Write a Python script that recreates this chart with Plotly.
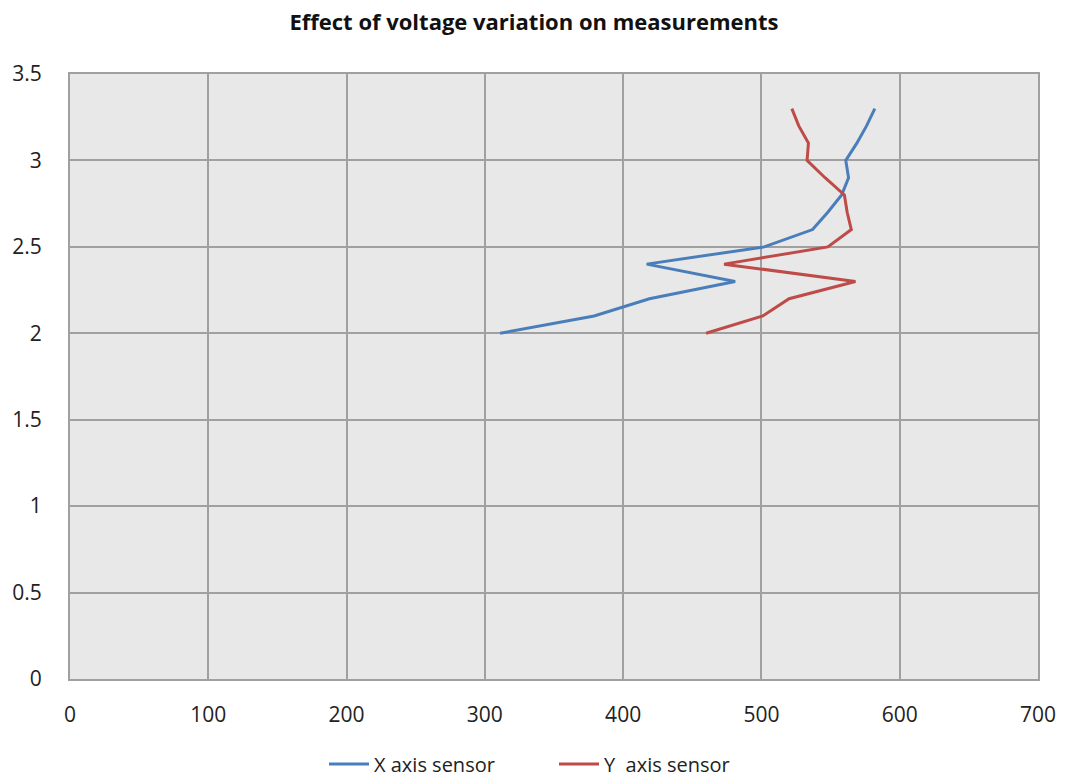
import plotly.graph_objects as go

voltage = [2.0, 2.1, 2.2, 2.3, 2.4, 2.5, 2.6, 2.7, 2.8, 2.9, 3.0, 3.1, 3.2, 3.3]
x_sensor = [311, 379, 419, 481, 417, 502, 537, 548, 558, 563, 561, 569, 576, 582]
y_sensor = [460, 501, 520, 568, 473, 548, 565, 562, 560, 546, 533, 534, 527, 522]

fig = go.Figure()
fig.add_trace(go.Scatter(x=x_sensor, y=voltage, mode="lines", name="X axis sensor",
                         line=dict(color="#4a7ebb", width=3)))
fig.add_trace(go.Scatter(x=y_sensor, y=voltage, mode="lines", name="Y  axis sensor",
                         line=dict(color="#be4b48", width=3)))

fig.update_layout(
    width=1068, height=782,
    margin=dict(l=68, r=28, t=74, b=103),
    paper_bgcolor="white", plot_bgcolor="#e8e8e8",
    font=dict(family="Open Sans, Lato, sans-serif", size=20, color="#222"),
    title=dict(text="<b>Effect of voltage variation on measurements</b>", x=0.5, xanchor="center",
               y=1 - 22/782, yanchor="middle", font=dict(size=22, color="#111")),
    showlegend=True,
    legend=dict(orientation="h", x=0.5, xanchor="center", yref="container",
                y=1 - 764/782, yanchor="middle", font=dict(size=20),
                entrywidth=175, itemwidth=40),
)
fig.update_xaxes(range=[0, 700], dtick=100, showgrid=True, gridcolor="#a0a0a0", gridwidth=2,
                 showline=True, linecolor="#a0a0a0", linewidth=2, mirror=True, zeroline=False,
                 ticks="", ticklabelstandoff=16, tickfont=dict(size=21))
fig.update_yaxes(range=[0, 3.5], dtick=0.5, showgrid=True, gridcolor="#a0a0a0", gridwidth=2,
                 showline=True, linecolor="#a0a0a0", linewidth=2, mirror=True, zeroline=False,
                 ticks="", ticklabelstandoff=22, tickformat="~g", tickfont=dict(size=21))

fig.write_html("out.html")
